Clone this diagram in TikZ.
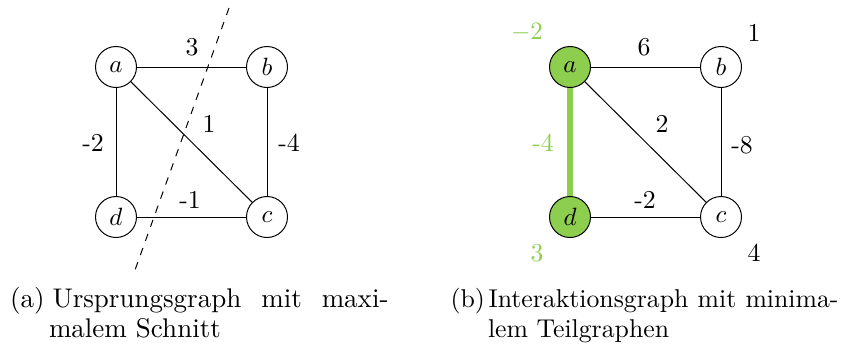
\documentclass[tikz,border=0pt]{standalone}
\definecolor{lgreen}{RGB}{141,206,79}
\newcommand{\figfont}{\fontsize{10.3}{12.4}\selectfont}
\newcommand{\capafont}{\fontsize{10.8}{13}\selectfont}
\begin{document}
\begin{tikzpicture}[x=0.4pt,y=-0.4pt,
  every node/.style={font=\figfont},
  vertex/.style={circle,draw,line width=0.4pt,minimum size=16.4pt,inner sep=0pt},
  gvertex/.style={vertex,fill=lgreen},
  elabel/.style={inner sep=0pt},
  glabel/.style={inner sep=0pt,text=lgreen},
  conn/.style={line width=0.4pt},
  captext/.style={anchor=base west,inner sep=0pt},
  captexta/.style={captext,font=\capafont}]
\useasboundingbox (0,0) rectangle (845,347);
% left graph
\node[vertex] (a) at (116,67) {$a$};
\node[vertex] (b) at (267,67) {$b$};
\node[vertex] (c) at (267,217) {$c$};
\node[vertex] (d) at (116,217) {$d$};
\draw[conn] (a) -- (b);
\draw[conn] (a) -- (d);
\draw[conn] (a) -- (c);
\draw[conn] (b) -- (c);
\draw[conn] (d) -- (c);
\node[elabel] (l3) at (192,47) {3};
\node[elabel] (l1) at (209,124) {1};
\node[elabel] (lm2) at (93,143) {-2};
\node[elabel] (lm4) at (289,143) {-4};
\node[elabel] (lm1) at (190,200) {-1};
\coordinate (cut1) at (229,8);
\coordinate (cut2) at (135,270);
\draw[conn,dashed] (cut1) -- (cut2);
% right graph
\node[gvertex] (a2) at (570,67) {$a$};
\node[vertex] (b2) at (721,67) {$b$};
\node[vertex] (c2) at (721,217) {$c$};
\node[gvertex] (d2) at (570,217) {$d$};
\draw[conn] (a2) -- (b2);
\draw[line width=2.4pt,lgreen] (a2) -- (d2);
\draw[conn] (a2) -- (c2);
\draw[conn] (b2) -- (c2);
\draw[conn] (d2) -- (c2);
\node[elabel] (r6) at (644,47) {6};
\node[elabel] (r2) at (662,124) {2};
\node[glabel] (rm4) at (543,143) {-4};
\node[elabel] (rm8) at (742,145) {-8};
\node[elabel] (rm2) at (645,200) {-2};
\node[glabel] (wa) at (527,32) {$-2$};
\node[elabel] (wb) at (754,33) {1};
\node[glabel] (wd) at (537,253) {3};
\node[elabel] (wc) at (754,253) {4};
% captions
\node[captexta] (capa) at (9.5,307) {(a)};
\node[captexta] (capa1) at (52,307) {\hbox to 134.4pt{Ursprungsgraph mit maxi-}};
\node[captexta] (capa2) at (48.5,337) {malem Schnitt};
\node[captext] (capb) at (450,307) {(b)};
\node[captext] (capb1) at (488,307) {\hbox to 140pt{Interaktionsgraph mit minima-}};
\node[captext] (capb2) at (487.5,337) {lem Teilgraphen};
\end{tikzpicture}
\end{document}
